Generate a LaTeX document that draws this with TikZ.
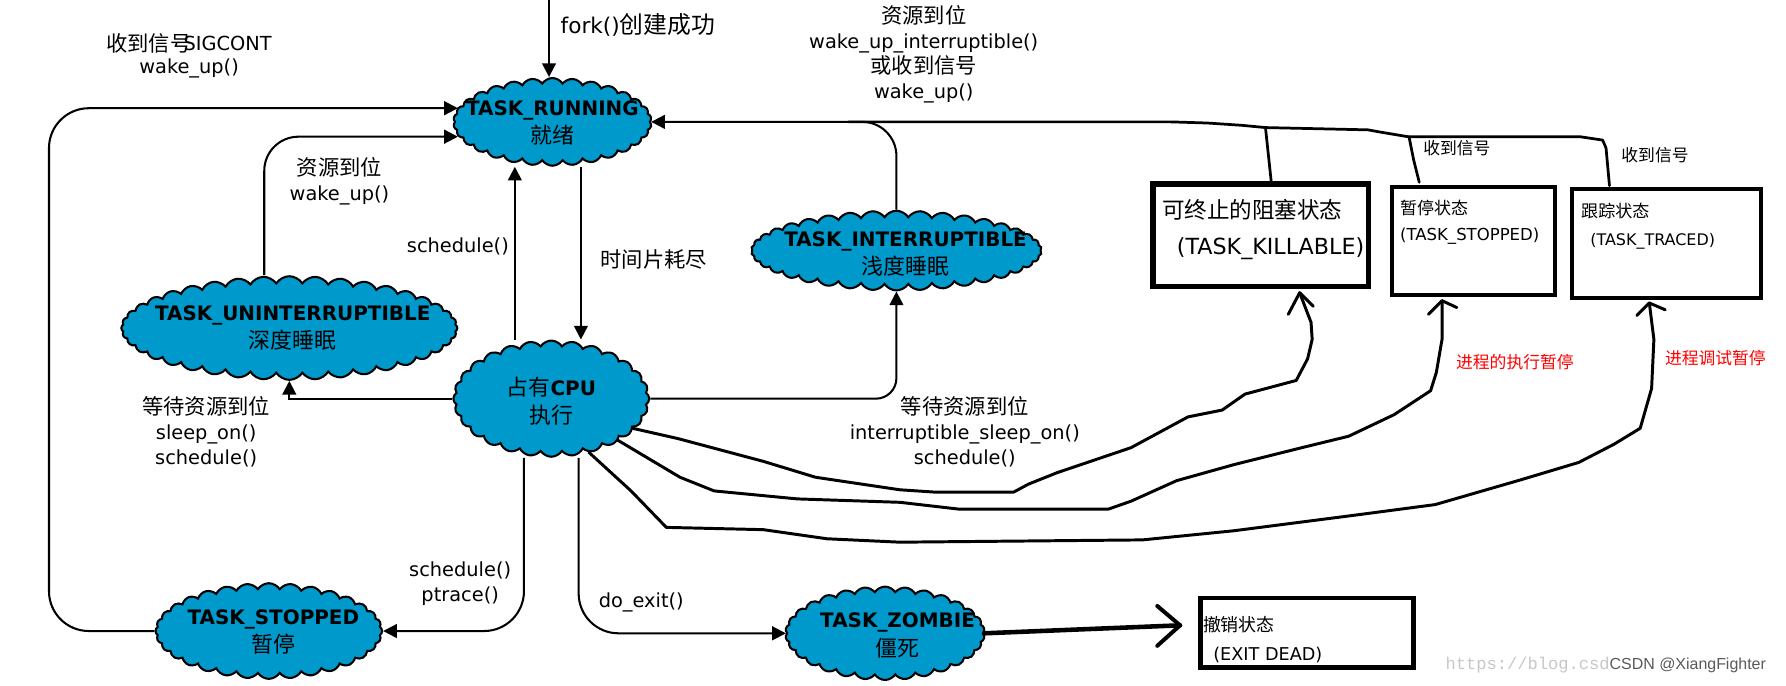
\documentclass[tikz,border=0pt]{standalone}
\usepackage{fontspec}
\setmainfont{DejaVu Sans}
\newfontfamily\cjk{Noto Sans CJK SC}[Scale=1.1]
\newfontfamily\wmmono{Liberation Mono}
\newfontfamily\wmsans{Liberation Sans}
\usetikzlibrary{shapes.symbols,arrows.meta,calc}
\definecolor{cblue}{RGB}{0,153,204}
\newcommand\zhs[1]{{\cjk #1}}
\begin{document}
\begin{tikzpicture}[x=1pt,y=-1pt,
  cloudst/.style={cloud, cloud puffs=30, cloud puff arc=115, cloud ignores aspect, draw=black, line width=1.8pt, fill=cblue, inner sep=0pt},
  ctext/.style={align=center, font=\fontsize{17.5}{25}\selectfont, inner sep=0pt},
  lbl/.style={align=center, font=\fontsize{17}{22}\selectfont, inner sep=0pt},
  sml/.style={align=center, font=\fontsize{13.4}{18}\selectfont, inner sep=0pt},
  boxst/.style={draw=black, fill=white, inner sep=0pt},
  btext/.style={anchor=west, inner sep=0pt},
  conn/.style={line width=1.8pt, -{Triangle[length=12pt,width=12pt]}},
  hand/.style={line width=2.6pt, line join=round, line cap=round}
]
\useasboundingbox (0,0) rectangle (1568,602);

% helper coordinates
\coordinate (x232) at (232,0);
\coordinate (x452) at (452,0);
\coordinate (x460) at (460,0);
\coordinate (x508) at (508,0);
\coordinate (x510) at (510,0);
\coordinate (x745) at (745,0);

% clouds
\node[cloudst, minimum width=174pt, minimum height=77pt] (run) at (485,107) {};
\node[cloudst, minimum width=295pt, minimum height=91pt, cloud puffs=40] (unint) at (254,288) {};
\node[cloudst, minimum width=172pt, minimum height=102pt, cloud puffs=28] (cpu) at (484,350) {};
\node[cloudst, minimum width=255pt, minimum height=70pt, cloud puffs=38] (inter) at (787,220) {};
\node[cloudst, minimum width=199pt, minimum height=84pt, cloud puffs=32] (stop) at (236,554) {};
\node[cloudst, minimum width=175pt, minimum height=82pt] (zomb) at (777,556) {};

\node[ctext] (runt) at (485,108) {\textbf{TASK\_RUNNING}\\\zhs{就绪}};
\node[ctext] (unintt) at (257,288) {\textbf{TASK\_UNINTERRUPTIBLE}\\\zhs{深度睡眠}};
\node[ctext] (cput) at (484,352) {\zhs{占有}\textbf{CPU}\\\zhs{执行}};
\node[ctext] (intert) at (795,223) {\textbf{TASK\_INTERRUPTIBLE}\\\zhs{浅度睡眠}};
\node[ctext] (stopt) at (240,555) {\textbf{TASK\_STOPPED}\\\zhs{暂停}};
\node[ctext] (zombt) at (788,558) {\textbf{TASK\_ZOMBIE}\\\zhs{僵死}};

% boxes
\node[boxst, line width=5pt, minimum width=189pt, minimum height=90pt] (kill) at (1107,206.5) {};
\node[boxst, line width=3.5pt, minimum width=143.5pt, minimum height=95.5pt] (stb) at (1293.5,211.5) {};
\node[boxst, line width=3.5pt, minimum width=166.5pt, minimum height=95.5pt] (trb) at (1463,213.5) {};
\node[boxst, line width=4pt, minimum width=187pt, minimum height=61pt] (dead) at (1147.5,555.5) {};

\node[btext, font=\fontsize{18}{22}\selectfont] (killa) at (1020,184) {\zhs{可终止的阻塞状态}};
\node[btext, font=\fontsize{19.5}{22}\selectfont] (killb) at (1033,218) {(TASK\_KILLABLE)};
\node[btext, font=\fontsize{13.6}{18}\selectfont] (stba) at (1229,183) {\zhs{暂停状态}};
\node[btext, font=\fontsize{14.5}{18}\selectfont] (stbb) at (1229,207) {(TASK\_STOPPED)};
\node[btext, font=\fontsize{13.6}{18}\selectfont] (trba) at (1388,185) {\zhs{跟踪状态}};
\node[btext, font=\fontsize{14}{18}\selectfont] (trbb) at (1396,212) {(TASK\_TRACED)};
\node[btext, font=\fontsize{14.3}{18}\selectfont] (deada) at (1056,548) {\zhs{撤销状态}};
\node[btext, font=\fontsize{15.5}{18}\selectfont] (deadb) at (1065,575) {(EXIT DEAD)};

% straight connectors
\coordinate (forktop) at (482,0);
\draw[conn] (forktop) -- (forktop |- run.north);
\coordinate (sigend) at (402,95);
\draw[conn, rounded corners=35] (stop.west) -- (43,554) -- (43,95) -- (sigend);
\coordinate (wkend) at (402,120);
\draw[conn, rounded corners=30] (unint.north -| x232) -- (232,120) -- (wkend);
\draw[conn] (cpu.north -| x452) -- (run.south -| x452);
\draw[conn] (run.south -| x510) -- (cpu.north -| x510);
\draw[conn] (cpu.west) -| (unint.south);
\draw[conn, rounded corners=18] (cpu.east) -| (inter.south);
\draw[conn, rounded corners=30] (inter.north) |- (run.east);
\draw[conn, rounded corners=35] (cpu.south -| x460) |- (stop.east);
\draw[conn, rounded corners=35] (cpu.south -| x508) |- (zomb.west);

% free-hand line to the three boxes
\coordinate (hj) at (run.east -| x745);
\draw[hand, line width=2.4pt] (hj) -- (1028,107) -- (1060,108) -- (1090,110) -- (1111,112) -- (1201,114) -- (1212,116) -- (1236,120) -- (1387,120) -- (1407,123);
\draw[hand, line width=2.4pt] (1111,112) -- (1116,159);
\draw[hand, line width=2.4pt] (1237,120) -- (1241,140) -- (1246,160);
\draw[hand, line width=2.4pt] (1407,123) -- (1410,130) -- (1413,163);

% free-hand arrows from CPU
\coordinate (k1) at (1141,257);
\coordinate (k2) at (1266,264);
\coordinate (k3) at (1448,266);
\draw[hand] (cpu.-20) -- (595,385) -- (670,405) -- (716,419) -- (790,430) -- (820,432) -- (890,432) -- (903,425) -- (928,415) -- (993,393) -- (1043,366) -- (1073,360) -- (1093,346) -- (1138,334) -- (1148,315) -- (1152,298) -- (1151,283) -- (k1);
\draw[hand] (1131,276) -- (k1) -- (1153,269);
\draw[hand] (cpu.-32) -- (597,419) -- (627,431) -- (700,438) -- (790,441) -- (842,447) -- (973,447) -- (993,440) -- (1033,422) -- (1083,408) -- (1143,393) -- (1184,383) -- (1224,364) -- (1256,343) -- (1261,327) -- (1266,298) -- (k2);
\draw[hand] (1254,276) -- (k2) -- (1279,270);
\draw[hand] (cpu.-55) -- (554,431) -- (585,463) -- (670,465) -- (726,473) -- (790,476) -- (1003,474) -- (1083,466) -- (1184,453) -- (1260,443) -- (1336,421) -- (1386,406) -- (1417,390) -- (1440,376) -- (1450,341) -- (1452,298) -- (k3);
\draw[hand] (1437,277) -- (k3) -- (1462,272);

% zombie -> dead
\coordinate (dtip) at (1036,549);
\draw[line width=4pt, line cap=round] (zomb.east) -- (dtip);
\draw[line width=3.5pt, line cap=round, line join=round] (1016,532) -- (dtip) -- (1016,567);

% labels
\node[lbl, anchor=west] (l1a) at (93,38) {\zhs{收到信号}};
\node[lbl, anchor=west] (l1b) at (161,38) {SIGCONT};
\node[lbl] (l1c) at (166,60) {wake\_up()};
\node[lbl] (l2) at (298,159) {\zhs{资源到位}\\wake\_up()};
\node[lbl] (l3) at (402,216) {schedule()};
\node[lbl] (l4) at (574,228) {\zhs{时间片耗尽}};
\node[lbl] (l5) at (181,379) {\zhs{等待资源到位}\\sleep\_on()\\schedule()};
\node[lbl] (l6) at (847,379) {\zhs{等待资源到位}\\interruptible\_sleep\_on()\\schedule()};
\node[lbl] (l7) at (811,48) {\zhs{资源到位}\\wake\_up\_interruptible()\\\zhs{或收到信号}\\wake\_up()};
\node[lbl] (l8) at (404,512) {schedule()\\ptrace()};
\node[lbl] (l9) at (563,529) {do\_exit()};
\node[lbl, anchor=west, font=\fontsize{19}{22}\selectfont] (lfork) at (492,22) {fork()\zhs{创建成功}};
\node[sml] (l10) at (1279,130) {\zhs{收到信号}};
\node[sml] (l11) at (1453,136) {\zhs{收到信号}};
\node[sml, text=red] (l12) at (1330,318) {\zhs{进程的执行暂停}};
\node[sml, text=red] (l13) at (1506,314) {\zhs{进程调试暂停}};

% watermark
\node[anchor=west, inner sep=0pt, font=\wmmono\fontsize{15}{18}\selectfont, text=black!22] (wm1) at (1269,584) {https://blog.csd};
\node[anchor=west, inner sep=0pt, font=\wmsans\fontsize{14}{18}\selectfont, text=black!65] (wm2) at (1413,584) {CSDN @XiangFighter};
\end{tikzpicture}
\end{document}
